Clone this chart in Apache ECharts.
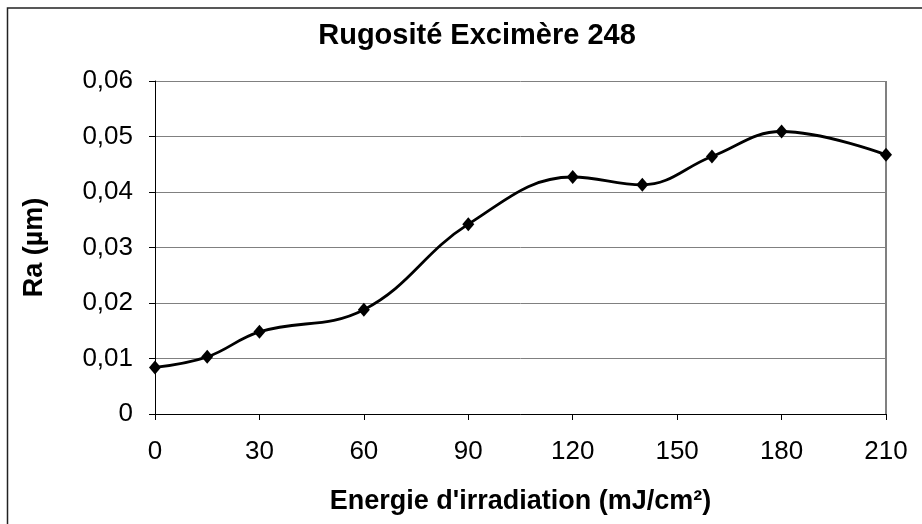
<!DOCTYPE html>
<html>
<head>
<meta charset="utf-8">
<style>
  html, body { margin: 0; padding: 0; background: #fff; }
  #chart { width: 922px; height: 524px; }
</style>
<script src="https://cdn.jsdelivr.net/npm/echarts@6/dist/echarts.min.js"></script>
</head>
<body>
<div id="chart"></div>
<script>
// Energie d'irradiation (mJ/cm²) and measured roughness Ra (µm)
const energie = [0, 15, 30, 60, 90, 120, 140, 160, 180, 210];
const rugosite = [0.0084, 0.0103, 0.0148, 0.0188, 0.0342, 0.0427, 0.0413, 0.0464, 0.0509, 0.0467];
const xTicks = [0, 30, 60, 90, 120, 150, 180, 210];
const yTicks = [0, 0.01, 0.02, 0.03, 0.04, 0.05, 0.06];

const font = '"Liberation Sans", Arial, sans-serif';
const fmtComma = v => (v === 0 ? '0' : v.toFixed(2).replace('.', ','));

const chart = echarts.init(document.getElementById('chart'), null, { renderer: 'canvas' });
chart.setOption({
  animation: false,
  backgroundColor: '#fff',
  title: {
    text: 'Rugosité Excimère 248',
    left: 472, top: 16, textAlign: 'center',
    textStyle: { fontFamily: font, fontSize: 29, fontWeight: 'bold', color: '#000' }
  },
  graphic: [{
    type: 'rect', silent: true,
    shape: { x: 7.5, y: 8, width: 930, height: 530 },
    style: { fill: 'none', stroke: '#222', lineWidth: 1.5 }
  }, {
    // right edge of the plot frame
    type: 'line', silent: true,
    shape: { x1: 886, y1: 81, x2: 886, y2: 414 },
    style: { stroke: '#808080', lineWidth: 2 }
  }],
  grid: { left: 155, right: 36, top: 81, bottom: 110, containLabel: false, outerBoundsMode: 'none' },
  xAxis: {
    type: 'value',
    min: xTicks[0], max: xTicks[xTicks.length - 1], interval: 30,
    name: "Energie d'irradiation (mJ/cm²)",
    nameLocation: 'middle', nameGap: 74,
    nameTextStyle: { fontFamily: font, fontSize: 27, fontWeight: 'bold', color: '#000' },
    axisLine: { show: true, lineStyle: { color: '#000', width: 1 } },
    axisTick: { show: true, inside: false, length: 6, lineStyle: { color: '#000' } },
    axisLabel: { fontFamily: font, fontSize: 26, color: '#000', margin: 25,
                 formatter: v => String(v) },
    splitLine: { show: false }
  },
  yAxis: {
    type: 'value',
    min: yTicks[0], max: yTicks[yTicks.length - 1], interval: 0.01,
    name: 'Ra (µm)',
    nameLocation: 'middle', nameGap: 107, nameRotate: 90,
    nameTextStyle: { fontFamily: font, fontSize: 27, fontWeight: 'bold', color: '#000' },
    axisLine: { show: true, lineStyle: { color: '#000', width: 1 } },
    axisTick: { show: true, inside: false, length: 6, lineStyle: { color: '#000' } },
    axisLabel: { fontFamily: font, fontSize: 26, color: '#000', margin: 22,
                 formatter: fmtComma },
    splitLine: { show: true, lineStyle: { color: '#808080', width: 1 } }
  },
  series: [{
    type: 'line',
    data: energie.map((e, i) => [e, rugosite[i]]),
    smooth: 0.4,
    symbol: 'diamond',
    symbolSize: [12, 14],
    itemStyle: { color: '#000' },
    lineStyle: { color: '#000', width: 2.8 }
  }]
});
</script>
</body>
</html>
